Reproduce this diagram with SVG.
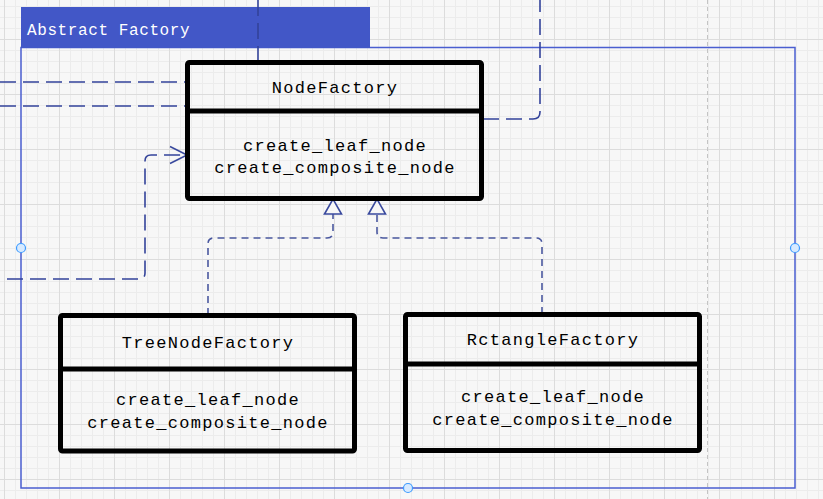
<svg xmlns="http://www.w3.org/2000/svg" width="823" height="499" viewBox="0 0 823 499">
<style>
.cls{fill:none;stroke:#000;stroke-width:5;stroke-linejoin:round}
.div{stroke:#000;stroke-width:5}
.t{font-family:"Liberation Mono","DejaVu Sans Mono",monospace;font-size:17px;letter-spacing:1.3px;fill:#000;text-anchor:middle}
.conn{fill:none;stroke:#33439a;stroke-width:1.6;stroke-dasharray:16 7}
.conn2{fill:none;stroke:#4a589f;stroke-width:1.6;stroke-dasharray:7 5}
.handle{fill:#d7eaff;stroke:#3d9bff;stroke-width:1.2}
</style>
<defs>
<pattern id="minor" width="11" height="11" x="4" y="6" patternUnits="userSpaceOnUse">
<path d="M0,0.5 H11 M0.5,0 V11" stroke="#ececec" stroke-width="1" fill="none"/>
</pattern>
<pattern id="major" width="55" height="55" x="4" y="39" patternUnits="userSpaceOnUse">
<path d="M0,0.5 H55 M0.5,0 V55" stroke="#dcdcdc" stroke-width="1" fill="none"/>
</pattern>
<marker id="tri" viewBox="-1 -10 18 20" markerWidth="18" markerHeight="20" refX="0" refY="0" orient="auto" markerUnits="userSpaceOnUse">
<path d="M0,-8.5 L15,0 L0,8.5 Z" fill="#f7f7f7" stroke="#3a4a9e" stroke-width="1.6"/>
</marker>
<marker id="open" viewBox="-19 -10 21 20" markerWidth="21" markerHeight="20" refX="0" refY="0" orient="auto" markerUnits="userSpaceOnUse">
<path d="M-17,-8.5 L0,0 L-17,8.5" fill="none" stroke="#3a4a9e" stroke-width="1.6"/>
</marker>
</defs>
<rect width="823" height="499" fill="#f7f7f7"/>
<rect width="823" height="499" fill="url(#minor)"/>
<rect width="823" height="499" fill="url(#major)"/>
<line x1="707.5" y1="0" x2="707.5" y2="499" stroke="#c4c4c4" stroke-width="1" stroke-dasharray="4 3"/>

<g id="frame">
<rect x="21" y="47.5" width="774" height="440.5" fill="none" stroke="#4a5ed0" stroke-width="1.5"/>
<rect x="21" y="7" width="349" height="41" fill="#4257c7"/>
<text x="27" y="35" font-family="Liberation Mono,DejaVu Sans Mono,monospace" font-size="16" letter-spacing="0.6" fill="#fff">Abstract Factory</text>
<circle class="handle" cx="21" cy="248" r="4.5"/>
<circle class="handle" cx="795" cy="248" r="4.5"/>
<circle class="handle" cx="408" cy="488" r="4.5"/>
</g>

<g id="connectors">
<path class="conn" d="M258,0 V62" stroke="#2c3a8c"/>
<path class="conn" d="M0,82 H186"/>
<path class="conn" d="M0,106 H186"/>
<path class="conn" d="M483,119 H533 Q540,119 540,112 V0"/>
<path class="conn" d="M7,279 H139 Q145,279 145,273 V161 Q145,155 151,155 H187" marker-end="url(#open)"/>
<path class="conn2" d="M208,315 V244 Q208,238 214,238 H327 Q333,238 333,232 V214" marker-end="url(#tri)"/>
<path class="conn2" d="M542,314 V244 Q542,238 536,238 H383 Q377,238 377,232 V214" marker-end="url(#tri)"/>
</g>

<g id="NodeFactory">
<rect class="cls" x="187.5" y="62.5" width="294" height="136" rx="2"/>
<line class="div" x1="187.5" y1="111" x2="481.5" y2="111"/>
<text class="t" x="335" y="93">NodeFactory</text>
<text class="t" x="335" y="151">create_leaf_node</text>
<text class="t" x="335" y="173">create_composite_node</text>
</g>

<g id="TreeNodeFactory">
<rect class="cls" x="60.5" y="315.5" width="294" height="135.5" rx="2"/>
<line class="div" x1="60.5" y1="369" x2="354.5" y2="369"/>
<text class="t" x="208" y="348">TreeNodeFactory</text>
<text class="t" x="208" y="405">create_leaf_node</text>
<text class="t" x="208" y="428">create_composite_node</text>
</g>

<g id="RctangleFactory">
<rect class="cls" x="405.5" y="314.5" width="294" height="136" rx="2"/>
<line class="div" x1="405.5" y1="364" x2="699.5" y2="364"/>
<text class="t" x="553" y="345">RctangleFactory</text>
<text class="t" x="553" y="402">create_leaf_node</text>
<text class="t" x="553" y="425">create_composite_node</text>
</g>
</svg>
